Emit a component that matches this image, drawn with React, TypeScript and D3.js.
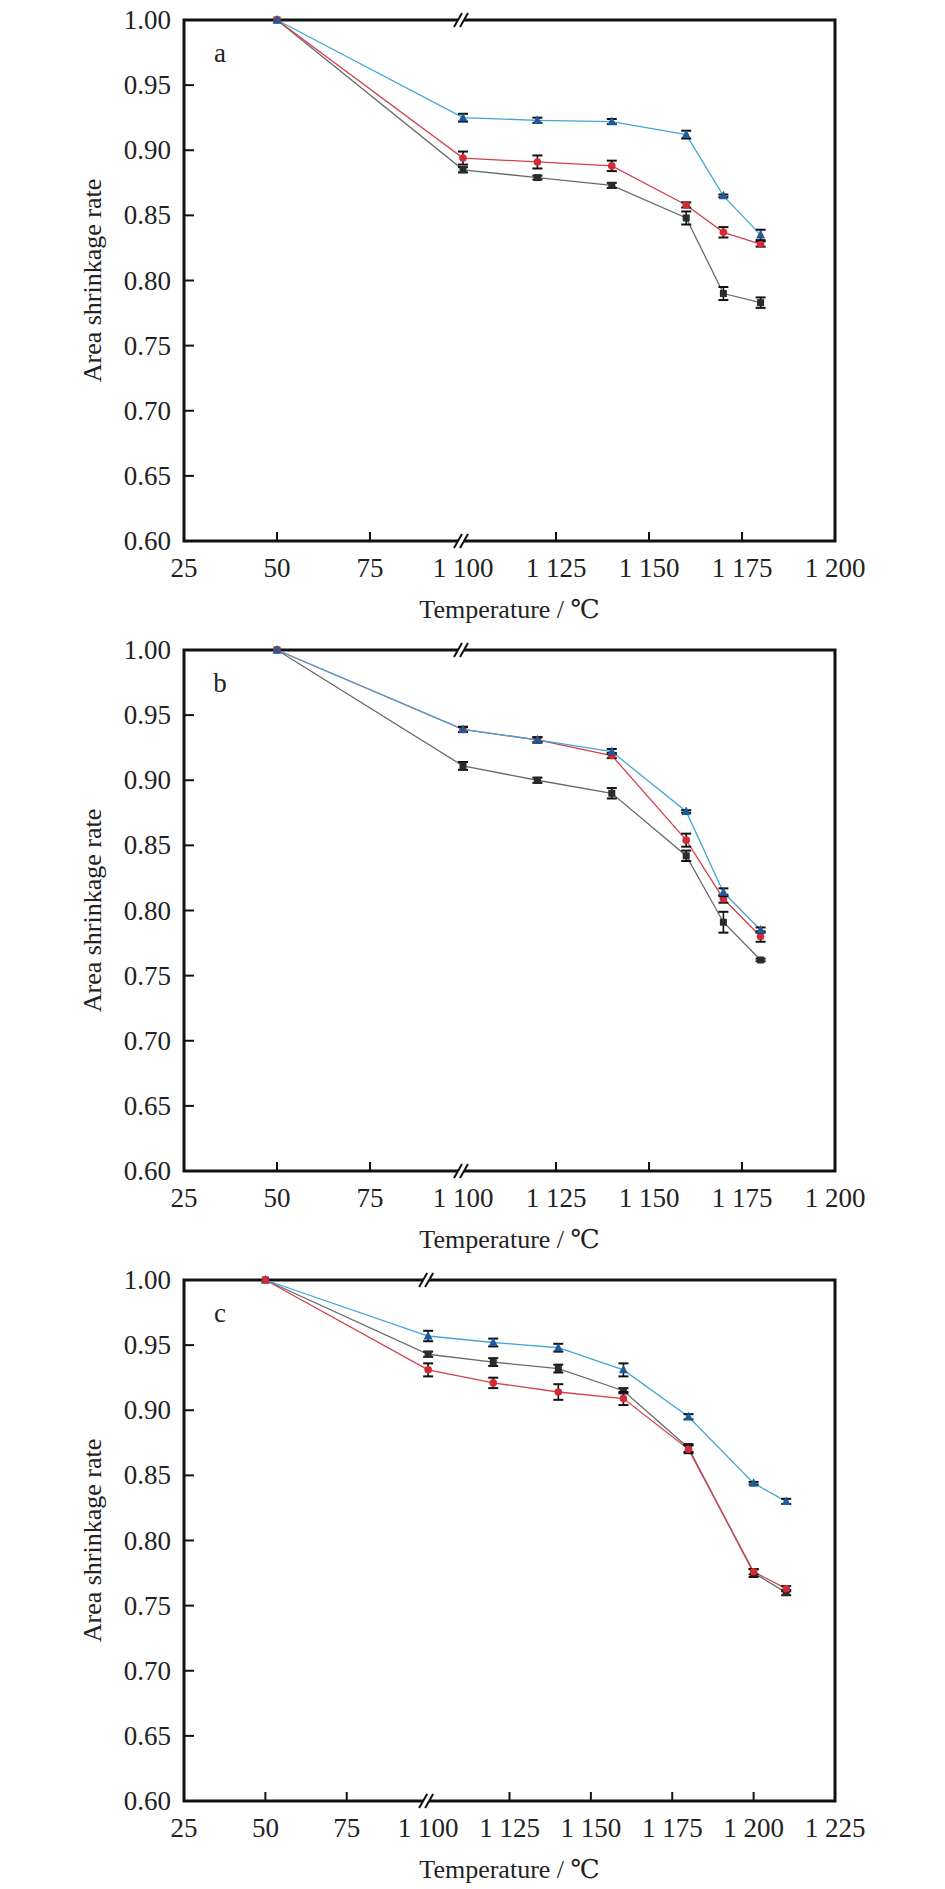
import React from "react";
import * as d3 from "d3";

// ---------- data ----------
const tempsAB = [50, 1100, 1120, 1140, 1160, 1170, 1180];
const tempsC = [50, 1100, 1120, 1140, 1160, 1180, 1200, 1210];

const aBlack = [1.0, 0.885, 0.879, 0.873, 0.848, 0.790, 0.783];
const aBlackErr = [0, 0.002, 0.0015, 0.002, 0.005, 0.005, 0.004];
const aRed = [1.0, 0.894, 0.891, 0.888, 0.858, 0.837, 0.828];
const aRedErr = [0, 0.005, 0.005, 0.004, 0.002, 0.004, 0.002];
const aBlue = [1.0, 0.925, 0.923, 0.922, 0.912, 0.865, 0.835];
const aBlueErr = [0, 0.003, 0.002, 0.002, 0.003, 0.001, 0.004];

const bBlack = [1.0, 0.911, 0.900, 0.890, 0.842, 0.791, 0.762];
const bBlackErr = [0, 0.003, 0.002, 0.004, 0.004, 0.008, 0.001];
const bRed = [1.0, 0.939, 0.931, 0.919, 0.854, 0.809, 0.780];
const bRedErr = [0, 0.002, 0.002, 0.002, 0.005, 0.003, 0.004];
const bBlue = [1.0, 0.939, 0.931, 0.922, 0.876, 0.814, 0.785];
const bBlueErr = [0, 0.002, 0.002, 0.002, 0.001, 0.003, 0.002];

const cBlack = [1.0, 0.943, 0.937, 0.932, 0.915, 0.871, 0.775, 0.760];
const cBlackErr = [0, 0.002, 0.003, 0.003, 0.002, 0.003, 0.003, 0.002];
const cRed = [1.0, 0.931, 0.921, 0.914, 0.909, 0.870, 0.776, 0.763];
const cRedErr = [0, 0.005, 0.004, 0.006, 0.005, 0.003, 0.002, 0.002];
const cBlue = [1.0, 0.957, 0.952, 0.948, 0.931, 0.895, 0.844, 0.830];
const cBlueErr = [0, 0.004, 0.003, 0.003, 0.005, 0.002, 0.001, 0.002];

const xTicksAB = [25, 50, 75, 1100, 1125, 1150, 1175, 1200];
const xTicksC = [25, 50, 75, 1100, 1125, 1150, 1175, 1200, 1225];
const yTicks = [0.6, 0.65, 0.7, 0.75, 0.8, 0.85, 0.9, 0.95, 1.0];
const panelLetters = ["a", "b", "c"];

// ---------- layout ----------
const W = 945;
const H = 1889;
const LEFT = 184;
const RIGHT = 835;
const PANEL_TOPS = [20, 650, 1280];
const PANEL_H = 521;
const FONT = "Liberation Serif, Times New Roman, Times, DejaVu Serif, serif";

const COLORS = {
  blackLine: "#6a6a6a",
  blackMark: "#2b2b2b",
  redLine: "#d4404e",
  redMark: "#d42a36",
  blueLine: "#45a6d6",
  blueMark: "#1d5b9c",
};

type Series = { vals: number[]; errs: number[]; line: string; mark: string; shape: "square" | "circle" | "triangle" };

function fmtTick(v: number) {
  if (v >= 1000) {
    const s = String(v);
    return s[0] + " " + s.slice(1);
  }
  return String(v);
}

const textStyle = { fontFamily: FONT } as React.CSSProperties;

function Panel({ top, temps, series, ticks, letter }: { top: number; temps: number[]; series: Series[]; ticks: number[]; letter: string }) {
  const n = ticks.length - 1;
  const step = (RIGHT - LEFT) / n;
  const x = d3
    .scaleLinear()
    .domain([ticks[0], ticks[2], ticks[3], ticks[n]])
    .range([LEFT, LEFT + 2 * step, LEFT + 3 * step, RIGHT]);
  const bottom = top + PANEL_H;
  const y = d3.scaleLinear().domain([0.6, 1.0]).range([bottom, top]);
  const line = d3
    .line<number>()
    .x((_, i) => x(temps[i]))
    .y((v) => y(v));
  const breakX = x(1100);

  const marker = (s: Series, cx: number, cy: number, k: number) => {
    if (s.shape === "square")
      return <rect key={k} x={cx - 3.5} y={cy - 3.5} width={7} height={7} fill={s.mark} />;
    if (s.shape === "circle") return <circle key={k} cx={cx} cy={cy} r={3.8} fill={s.mark} />;
    return (
      <path key={k} d={`M${cx},${cy - 5} L${cx + 4.5},${cy + 3.5} L${cx - 4.5},${cy + 3.5} Z`} fill={s.mark} />
    );
  };

  const breakMark = (yy: number, key: string) => (
    <g key={key}>
      <polygon
        points={`${breakX - 9},${yy + 7} ${breakX - 1},${yy - 7} ${breakX + 5},${yy - 7} ${breakX - 3},${yy + 7}`}
        fill="#fff"
      />
      <line x1={breakX - 9} y1={yy + 7} x2={breakX - 1} y2={yy - 7} stroke="#111" strokeWidth={2} />
      <line x1={breakX - 3} y1={yy + 7} x2={breakX + 5} y2={yy - 7} stroke="#111" strokeWidth={2} />
    </g>
  );

  return (
    <g>
      {yTicks.map((t) => (
        <g key={"y" + t}>
          <line x1={LEFT} x2={LEFT + 10} y1={y(t)} y2={y(t)} stroke="#111" strokeWidth={2} />
          <text x={171} y={y(t)} textAnchor="end" dominantBaseline="central" fontSize={27} style={textStyle} fill="#222">
            {t.toFixed(2)}
          </text>
        </g>
      ))}
      {ticks.map((t, i) => (
        <g key={"x" + t}>
          {i > 0 && i < n && t !== 1100 && (
            <line x1={x(t)} x2={x(t)} y1={bottom} y2={bottom - 9} stroke="#111" strokeWidth={2} />
          )}
          <text x={x(t)} y={bottom + 27} textAnchor="middle" dominantBaseline="central" fontSize={27} style={textStyle} fill="#222">
            {fmtTick(t)}
          </text>
        </g>
      ))}
      <rect x={LEFT} y={top} width={RIGHT - LEFT} height={PANEL_H} fill="none" stroke="#111" strokeWidth={3} />
      {breakMark(top, "bt")}
      {breakMark(bottom, "bb")}
      {series.map((s, si) => (
        <path key={"l" + si} d={line(s.vals) || ""} fill="none" stroke={s.line} strokeWidth={1.3} />
      ))}
      {series.map((s, si) => (
        <g key={"m" + si}>
          {s.vals.map((v, i) => {
            const cx = x(temps[i]);
            const e = s.errs[i];
            if (!e) return null;
            const y1 = y(v + e);
            const y2 = y(v - e);
            return (
              <g key={"e" + i}>
                <line x1={cx} x2={cx} y1={y1} y2={y2} stroke="#111" strokeWidth={1.6} />
                <line x1={cx - 5} x2={cx + 5} y1={y1} y2={y1} stroke="#111" strokeWidth={2} />
                <line x1={cx - 5} x2={cx + 5} y1={y2} y2={y2} stroke="#111" strokeWidth={2} />
              </g>
            );
          })}
          {s.vals.map((v, i) => marker(s, x(temps[i]), y(v), i))}
        </g>
      ))}
      <text x={220} y={top + 33} textAnchor="middle" dominantBaseline="central" fontSize={27} style={textStyle} fill="#222">
        {letter}
      </text>
      <text
        transform={`translate(92,${(top + bottom) / 2}) rotate(-90)`}
        textAnchor="middle"
        dominantBaseline="central"
        fontSize={26}
        style={textStyle}
        fill="#222"
      >
        Area shrinkage rate
      </text>
      <text x={(LEFT + RIGHT) / 2} y={bottom + 68} textAnchor="middle" dominantBaseline="central" fontSize={26} style={textStyle} fill="#222">
        Temperature / ℃
      </text>
    </g>
  );
}

export default function App() {
  const mk = (vals: number[], errs: number[], color: "black" | "red" | "blue"): Series => ({
    vals,
    errs,
    line: color === "black" ? COLORS.blackLine : color === "red" ? COLORS.redLine : COLORS.blueLine,
    mark: color === "black" ? COLORS.blackMark : color === "red" ? COLORS.redMark : COLORS.blueMark,
    shape: color === "black" ? "square" : color === "red" ? "circle" : "triangle",
  });
  const panels = [
    { temps: tempsAB, ticks: xTicksAB, series: [mk(aBlack, aBlackErr, "black"), mk(aRed, aRedErr, "red"), mk(aBlue, aBlueErr, "blue")] },
    { temps: tempsAB, ticks: xTicksAB, series: [mk(bBlack, bBlackErr, "black"), mk(bRed, bRedErr, "red"), mk(bBlue, bBlueErr, "blue")] },
    { temps: tempsC, ticks: xTicksC, series: [mk(cBlack, cBlackErr, "black"), mk(cBlue, cBlueErr, "blue"), mk(cRed, cRedErr, "red")] },
  ];
  return (
    <svg
      width={W}
      height={H}
      style={{ position: "absolute", left: 0, top: 0, background: "#fff" }}
      xmlns="http://www.w3.org/2000/svg"
    >
      <rect x={0} y={0} width={W} height={H} fill="#fff" />
      {panels.map((p, i) => (
        <Panel key={i} top={PANEL_TOPS[i]} temps={p.temps} series={p.series} ticks={p.ticks} letter={panelLetters[i]} />
      ))}
    </svg>
  );
}
